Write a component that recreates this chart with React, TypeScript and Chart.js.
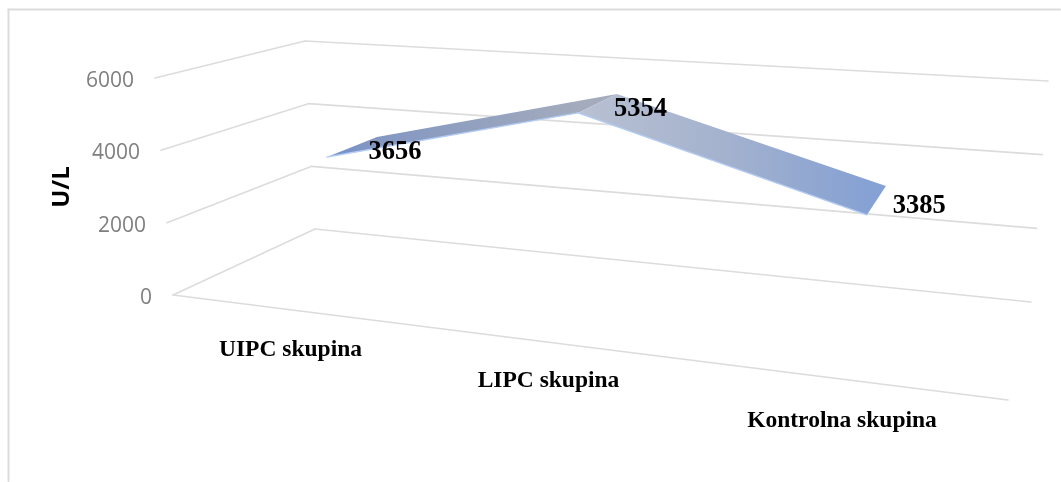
import React, { useEffect, useRef } from "react";
import { Chart, registerables } from "chart.js";

Chart.register(...registerables);

const categories = ["UIPC skupina", "LIPC skupina", "Kontrolna skupina"];
const seriesValues = [3656, 5354, 3385];
const axisTitle = "U/L";
const axisMax = 6000;
const axisStep = 2000;

type P = [number, number];
const lerp = (a: P, b: P, t: number): P => [a[0] + (b[0] - a[0]) * t, a[1] + (b[1] - a[1]) * t];

// Projection of the 3D box on to the page (layout, not data)
const box = {
  frontFloorL: [173, 295] as P,
  frontFloorR: [1008, 400] as P,
  backFloorL: [315, 229] as P,
  backFloorR: [1031, 302] as P,
  frontTopL: [155, 78] as P,
  backTopL: [305, 41] as P,
  backTopR: [1048, 81] as P,
};
// ribbon edges: origin + u * perCategory + f * fullHeight
const ribbonFront = { o: [364.8, 302.6] as P, a: [268.5, 23.6] as P, b: [-62, -239] as P };
const ribbonBack = { o: [405.9, 271.6] as P, a: [253.4, 19.5] as P, b: [-47.5, -221] as P };
const project = (e: typeof ribbonFront, u: number, f: number): P => [
  e.o[0] + u * e.a[0] + f * e.b[0],
  e.o[1] + u * e.a[1] + f * e.b[1],
];
const categoryLabelPos: P[] = [[290.5, 350], [548.5, 381], [842, 421]];

const gridColor = "#dcdcdc";
const tickFont = '21px "Open Sans"';
const titleFont = 'bold 24px "Open Sans"';
const catFont = 'bold 23.5px "Liberation Serif"';
const valueFont = 'bold 26.5px "Liberation Serif"';

const ribbon3d = {
  id: "ribbon3d",
  afterDatasetsDraw(chart: any) {
    const { ctx, scales } = chart;
    const y = scales.y;
    const x = scales.x;
    const seg = (a: P, b: P, w = 1.6, c = gridColor) => {
      ctx.strokeStyle = c;
      ctx.lineWidth = w;
      ctx.beginPath();
      ctx.moveTo(a[0], a[1]);
      ctx.lineTo(b[0], b[1]);
      ctx.stroke();
    };
    ctx.save();
    ctx.lineCap = "round";
    ctx.lineJoin = "round";

    // chart frame: only the top and left edges fall inside the crop
    seg([8.5, 9.5], [1060, 9.5], 2);
    seg([8.5, 9.5], [8.5, 481], 2);

    // walls and floor, from the y axis ticks
    const frac = (v: number) => (y.bottom - y.getPixelForValue(v)) / (y.bottom - y.top);
    for (const t of y.ticks) {
      const f = frac(t.value);
      const fl = lerp(box.frontFloorL, box.frontTopL, f);
      const bl = lerp(box.backFloorL, box.backTopL, f);
      const br = lerp(box.backFloorR, box.backTopR, f);
      seg(fl, bl);
      seg(bl, br);
      ctx.fillStyle = "#7f7f7f";
      ctx.font = tickFont;
      ctx.textAlign = "right";
      ctx.textBaseline = "middle";
      ctx.fillText(String(t.value), fl[0] - 21, y.getPixelForValue(t.value) + 3);
    }
    seg(box.frontFloorL, box.frontFloorR);

    // ribbon, from the points the line controller placed
    const points = chart.getDatasetMeta(0).data;
    const x0 = x.getPixelForValue(0);
    const step = x.getPixelForValue(1) - x0;
    const front: P[] = [];
    const back: P[] = [];
    points.forEach((pt: any) => {
      const u = (pt.x - x0) / step;
      const f = (y.bottom - pt.y) / (y.bottom - y.top);
      front.push(project(ribbonFront, u, f));
      back.push(project(ribbonBack, u, f));
    });
    const fills: [number, string][][] = [
      [[0, "#6f90d0"], [0.15, "#8196c2"], [1, "#a3abbd"]],
      [[0, "#b9c1d2"], [0.5, "#a4b2ce"], [1, "#86a1d3"]],
    ];
    for (let i = 0; i < front.length - 1; i++) {
      const g = ctx.createLinearGradient(front[i][0], 0, front[i + 1][0], 0);
      fills[i].forEach(([s, c]) => g.addColorStop(s, c));
      ctx.fillStyle = g;
      ctx.beginPath();
      ctx.moveTo(front[i][0], front[i][1]);
      ctx.lineTo(front[i + 1][0], front[i + 1][1]);
      ctx.lineTo(back[i + 1][0], back[i + 1][1]);
      ctx.lineTo(back[i][0], back[i][1]);
      ctx.closePath();
      ctx.fill();
      seg(front[i], front[i + 1], 1.4, "#b4cdf5");
    }

    // value labels
    ctx.fillStyle = "#000";
    ctx.font = valueFont;
    ctx.textAlign = "center";
    ctx.textBaseline = "middle";
    const values = chart.data.datasets[0].data as number[];
    values.forEach((v, i) => {
      const m = lerp(front[i], back[i], 0.5);
      ctx.fillText(String(v), m[0] + 43, m[1] + 5.3);
    });

    // category labels
    ctx.font = catFont;
    (chart.data.labels as string[]).forEach((c, i) => {
      ctx.fillText(c, categoryLabelPos[i][0], categoryLabelPos[i][1]);
    });

    // axis title
    ctx.save();
    ctx.translate(62, 187);
    ctx.rotate(-Math.PI / 2);
    ctx.font = titleFont;
    ctx.fillText(axisTitle, 0, 0);
    ctx.restore();
    ctx.restore();
  },
};

export default function App() {
  const ref = useRef<HTMLCanvasElement>(null);
  useEffect(() => {
    const chart = new Chart(ref.current!, {
      type: "line",
      data: {
        labels: categories,
        datasets: [
          {
            label: "U/L",
            data: seriesValues,
            borderWidth: 0,
            borderColor: "transparent",
            backgroundColor: "transparent",
            pointRadius: 0,
            tension: 0,
          },
        ],
      },
      options: {
        animation: false,
        responsive: false,
        devicePixelRatio: 1,
        layout: { padding: { left: 173, top: 78, right: 53, bottom: 187 } },
        plugins: { legend: { display: false }, tooltip: { enabled: false }, title: { display: false } },
        scales: {
          x: { type: "category", display: false, offset: true },
          y: { display: false, min: 0, max: axisMax, ticks: { stepSize: axisStep } },
        },
      },
      plugins: [ribbon3d],
    });
    return () => chart.destroy();
  }, []);
  return (
    <div style={{ position: "fixed", left: 0, top: 0, width: 1061, height: 482, background: "#fff" }}>
      <canvas ref={ref} width={1061} height={482} style={{ display: "block", width: 1061, height: 482 }} />
    </div>
  );
}
